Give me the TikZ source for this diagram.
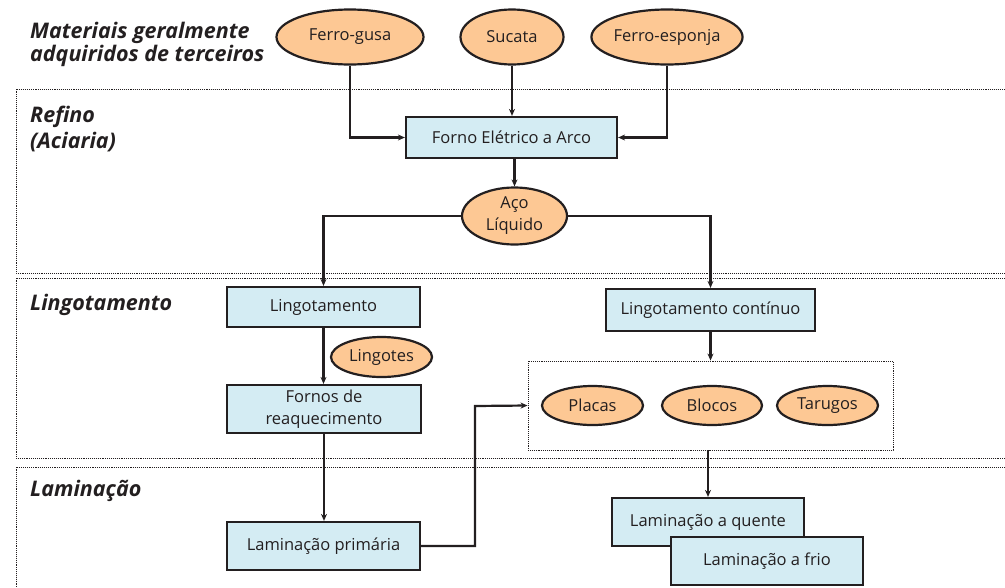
\documentclass[tikz,border=0pt]{standalone}
\usepackage{fontspec}
\setmainfont{Open Sans}
\usetikzlibrary{shapes.geometric,arrows.meta}
\definecolor{boxblue}{RGB}{212,236,243}
\definecolor{peach}{RGB}{253,200,148}
\definecolor{ink}{RGB}{35,31,32}
\begin{document}
\begin{tikzpicture}[x=1pt,y=-1pt,
		every node/.style={text=ink,font=\fontsize{16.5}{22}\selectfont},
		etapa/.style={draw=ink,line width=2.2pt,fill=boxblue,rectangle,inner sep=0pt,align=center},
		produto/.style={draw=ink,line width=2.2pt,fill=peach,ellipse,inner sep=0pt},
		secao/.style={draw=ink,line width=0.9pt,densely dotted},
		titulo/.style={font=\fontsize{21.5}{16}\selectfont\bfseries\itshape,anchor=north west,align=left,inner sep=0pt},
		seta/.style={draw=ink,line width=2.2pt,-{Stealth[length=7pt,width=6pt]}}]
		\useasboundingbox (0,0) rectangle (1005,587);
		% secoes
		\draw[secao] (1012,89) -- (16,89) -- (16,273) -- (1012,273);
		\draw[secao] (1012,278) -- (16,278) -- (16,458) -- (1012,458);
		\draw[secao] (1012,467) -- (16,467) -- (16,595);
		\node[titulo] (T0) at (30,22) {Materiais geralmente\\adquiridos de terceiros};
		\node[titulo,font=\fontsize{21.5}{26}\selectfont\bfseries\itshape] (T1) at (30,106) {Refino\\(Aciaria)};
		\node[titulo] (T2) at (30,294) {Lingotamento};
		\node[titulo] (T3) at (30,480) {Laminação};
		% materiais
		\node[produto,minimum width=147pt,minimum height=55pt] (FG) at (350,37) {Ferro-gusa};
		\node[produto,minimum width=103pt,minimum height=55pt] (SU) at (512,37) {Sucata};
		\node[produto,minimum width=148pt,minimum height=55pt] (FE) at (667,37) {Ferro-esponja};
		% refino
		\node[etapa,minimum width=211pt,minimum height=41pt] (FEA) at (511.5,137.5) {Forno Elétrico a Arco};
		\node[produto,minimum width=105pt,minimum height=57pt,align=center] (AL) at (514.5,216) {Aço\\Líquido};
		% lingotamento
		\node[etapa,minimum width=193pt,minimum height=40pt] (LG) at (323.5,307) {Lingotamento};
		\node[produto,minimum width=101pt,minimum height=40pt] (LT) at (381.5,357) {Lingotes};
		\node[etapa,minimum width=194pt,minimum height=48pt] (FR) at (324,409) {Fornos de\\reaquecimento};
		\node[etapa,minimum width=209pt,minimum height=42pt] (LC) at (710.5,310) {Lingotamento contínuo};
		\node[secao,minimum width=365pt,minimum height=89pt] (SM) at (710.5,405.5) {};
		\node[produto,minimum width=101pt,minimum height=39pt] (PL) at (592.5,405.5) {Placas};
		\node[produto,minimum width=100pt,minimum height=39pt] (BL) at (712,405.5) {Blocos};
		\node[produto,minimum width=101pt,minimum height=39pt] (TA) at (827.5,405.5) {Tarugos};
		% laminacao
		\node[etapa,minimum width=193pt,minimum height=48pt] (LP) at (323.5,546) {Laminação primária};
		\node[etapa,minimum width=192pt,minimum height=48pt] (LQ) at (708,522) {Laminação a quente};
		\node[etapa,minimum width=192pt,minimum height=48pt] (LF) at (767,561) {Laminação a frio};
		% conexoes
		\draw[seta] (FG.south) |- (FEA.west);
		\draw[seta] (SU.south) -- (SU.south |- FEA.north);
		\draw[seta] (FE.south) |- (FEA.east);
		\draw[seta] (FEA.south -| AL.north) -- (AL.north);
		\draw[seta] (AL.west) -| (LG.north);
		\draw[seta] (AL.east) -| (LC.north);
		\draw[seta] (LG.south) -- (LG.south |- FR.north);
		\draw[seta] (FR.south) -- (FR.south |- LP.north);
		\draw[seta] (LC.south) -- (LC.south |- SM.north);
		\coordinate (K) at (475,406);
		\draw[seta] (LP.east) -| (K) -- (SM.west);
		\draw[seta] (SM.south -| LQ.north) -- (LQ.north);
\end{tikzpicture}
\end{document}
